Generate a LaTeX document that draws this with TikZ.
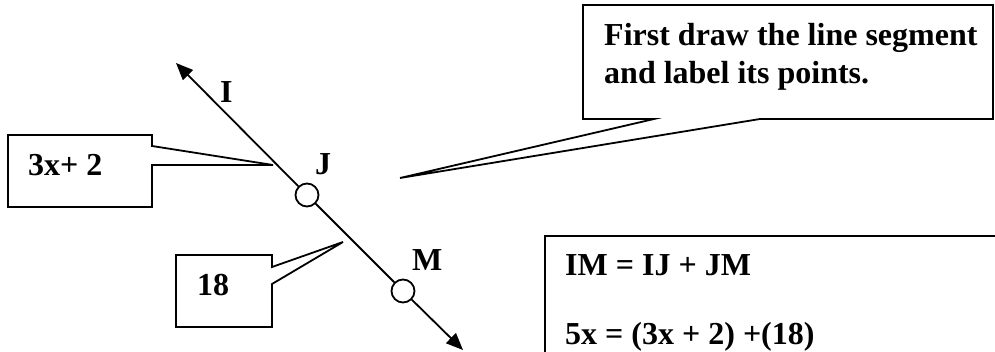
\documentclass[tikz,border=0pt]{standalone}
\usepackage{fontspec}
\setmainfont{Liberation Serif}
\usetikzlibrary{arrows.meta}
\begin{document}
\begin{tikzpicture}[x=1pt,y=-1pt,
  lbl/.style={anchor=base west, inner sep=0pt, font=\bfseries\fontsize{32}{38}\selectfont},
  callout/.style={draw, line width=1.8pt, fill=white, line join=miter},
  ray/.style={line width=1.8pt},
  ptcircle/.style={circle, draw, line width=1.8pt, fill=white, minimum size=23pt, inner sep=0pt}]
\clip (0,0) rectangle (995,352);
\fill[white] (0,0) rectangle (995,352);
% the line with its points
\coordinate (tipA) at (176,63);
\coordinate (tipB) at (463,350);
\node[ptcircle] (J) at (307,195) {};
\node[ptcircle] (M) at (403,291) {};
\draw[ray, -{Triangle[length=17pt,width=14pt]}] (J) -- (tipA);
\draw[ray] (J) -- (M);
\draw[ray, -{Triangle[length=17pt,width=14pt]}] (M) -- (tipB);
% callouts
\coordinate (c1tip) at (273,165);
\coordinate (c2tip) at (343,242);
\coordinate (c3tip) at (400,178);
\draw[callout] (8,135) -- (152,135) -- (152,146) -- (c1tip) -- (152,165) -- (152,207) -- (8,207) -- cycle;
\draw[callout] (176,255) -- (272,255) -- (272,267) -- (c2tip) -- (272,284) -- (272,327) -- (176,327) -- cycle;
\draw[callout] (583,5) -- (993,5) -- (993,119) -- (760,119) -- (c3tip) -- (654,119) -- (583,119) -- cycle;
\draw[callout] (545,236) -- (1010,236) -- (1010,400) -- (545,400) -- cycle;
% texts
\node[lbl] (t1) at (28,176) {3x+ 2};
\node[lbl] (t2) at (197,296) {18};
\node[lbl] (lI) at (220,103) {I};
\node[lbl] (lJ) at (315,175) {J};
\node[lbl] (lM) at (412,271) {M};
\node[lbl] (f1) at (604,46) {First draw the line segment};
\node[lbl] (f2) at (604,84) {and label its points.};
\node[lbl] (e1) at (565,276) {IM = IJ + JM};
\node[lbl] (e2) at (565,344) {5x = (3x + 2) +(18)};
\end{tikzpicture}
\end{document}
